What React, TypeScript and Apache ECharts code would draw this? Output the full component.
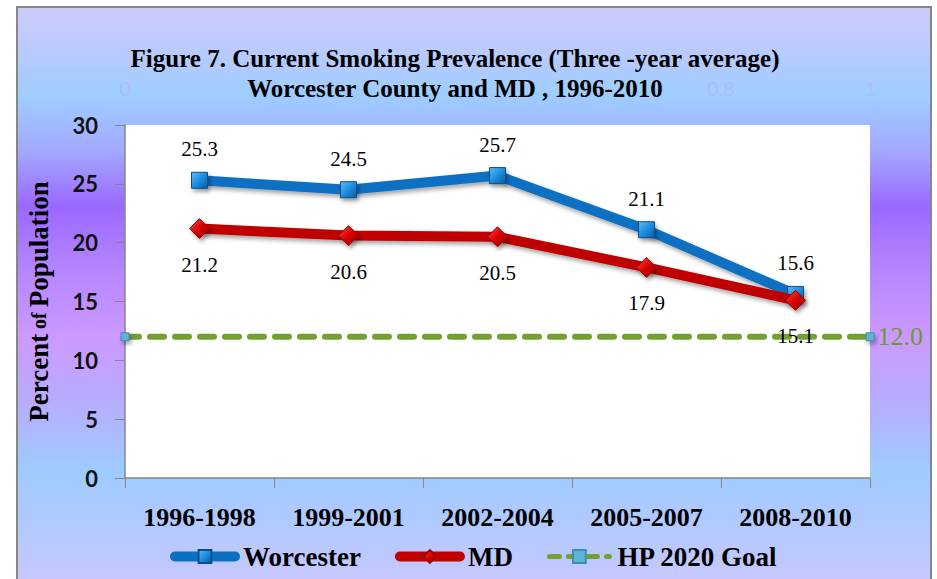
import React, { useEffect, useRef } from "react";
import * as echarts from "echarts";

// ---- Data ----
const categories = ["1996-1998", "1999-2001", "2002-2004", "2005-2007", "2008-2010"];
const worcesterValues = [25.3, 24.5, 25.7, 21.1, 15.6];
const mdValues = [21.2, 20.6, 20.5, 17.9, 15.1];
const goalValue = 12.0;
const goalSpan = [0, 1]; // secondary x axis (0..1) endpoints
const yTickLabels = [0, 5, 10, 15, 20, 25, 30];
const secondaryXTicks = [0, 0.2, 0.4, 0.6, 0.8, 1];
const secondaryXVisible = [0, 0.8, 1]; // the others are hidden behind the title

const titleLines = [
  "Figure 7. Current Smoking Prevalence (Three -year average)",
  "Worcester County and MD , 1996-2010",
];
const seriesNames = ["Worcester", "MD", "HP 2020 Goal"];

const SERIF = "'Liberation Serif', 'Times New Roman', serif";
const SANS = "Lato, 'Open Sans', sans-serif";

export default function App() {
  const ref = useRef<HTMLDivElement>(null);

  useEffect(() => {
    if (!ref.current) return;
    const chart = echarts.init(ref.current, undefined, { renderer: "svg" });

    const shadow = {
      shadowColor: "rgba(0,0,0,0.35)",
      shadowBlur: 4,
      shadowOffsetX: 2,
      shadowOffsetY: 3,
    };

    const option: any = {
      animation: false,
      backgroundColor: "transparent",
      title: {
        text: titleLines.join("\n"),
        left: 455,
        top: 43,
        padding: 0,
        textAlign: "center",
        textStyle: {
          fontFamily: SERIF,
          fontWeight: "bold",
          fontSize: 25,
          lineHeight: 30,
          color: "#000",
        },
      },
      legend: {
        data: [
          { name: seriesNames[0] },
          { name: seriesNames[1] },
          {
            name: seriesNames[2],
            lineStyle: { width: 5, type: [10, 9], cap: "round", color: "#72a033" },
          },
        ],
        left: 165,
        top: 538,
        itemWidth: 60,
        itemHeight: 16,
        itemGap: 34,
        lineStyle: { width: 10, cap: "round" },
        textStyle: {
          fontFamily: SERIF,
          fontWeight: "bold",
          fontSize: 27,
          color: "#000",
          padding: [0, 0, 0, 3],
        },
      },
      grid: {
        left: 125,
        right: 67,
        top: 125,
        bottom: 101,
        show: true,
        backgroundColor: "#ffffff",
        borderWidth: 0,
      },
      xAxis: [
        {
          type: "category",
          data: categories,
          boundaryGap: true,
          axisLine: { show: true, lineStyle: { color: "#868686", width: 1.5 } },
          axisTick: { show: true, length: 10, lineStyle: { color: "#868686" } },
          axisLabel: {
            fontFamily: SERIF,
            fontWeight: "bold",
            fontSize: 26,
            color: "#000",
            margin: 26,
          },
        },
        {
          type: "value",
          position: "top",
          min: secondaryXTicks[0],
          max: secondaryXTicks[secondaryXTicks.length - 1],
          interval: secondaryXTicks[1] - secondaryXTicks[0],
          axisLine: { show: false },
          axisTick: { show: false },
          splitLine: { show: false },
          axisLabel: {
            fontFamily: SANS,
            fontSize: 20,
            color: "#a9c0f0",
            margin: 27,
            formatter: (v: number) =>
              secondaryXVisible.some((t) => Math.abs(t - v) < 1e-6) ? String(v) : "",
          },
        },
      ],
      yAxis: {
        type: "value",
        min: yTickLabels[0],
        max: yTickLabels[yTickLabels.length - 1],
        interval: yTickLabels[1] - yTickLabels[0],
        splitLine: { show: false },
        axisLine: { show: true, lineStyle: { color: "#868686", width: 1.5 } },
        axisTick: { show: true, length: 10, lineStyle: { color: "#868686" } },
        axisLabel: {
          fontFamily: SANS,
          fontWeight: "bold",
          fontSize: 22,
          color: "#111",
          margin: 27,
        },
        name: "{a|Percent}{b| of }{a|Population}",
        nameLocation: "middle",
        nameRotate: 90,
        nameGap: 73,
        nameTextStyle: {
          rich: {
            a: { fontFamily: SERIF, fontWeight: "bold", fontSize: 27, color: "#000" },
            b: { fontFamily: SERIF, fontWeight: "bold", fontSize: 20, color: "#000" },
          },
        },
      },
      series: [
        {
          name: seriesNames[0],
          type: "line",
          data: worcesterValues,
          symbol: "rect",
          symbolSize: 16,
          lineStyle: { color: "#0a70c2", width: 10, ...shadow },
          itemStyle: {
            color: new echarts.graphic.LinearGradient(0, 0, 1, 1, [
              { offset: 0, color: "#5cbcf5" },
              { offset: 0.5, color: "#1d8ee0" },
              { offset: 1, color: "#0a5aa0" },
            ]),
            borderColor: "#0b4d88",
            borderWidth: 1,
            ...shadow,
          },
          label: {
            show: true,
            position: "top",
            distance: 12,
            fontFamily: SERIF,
            fontSize: 21,
            color: "#000",
            formatter: (p: any) => Number(p.value).toFixed(1),
          },
          z: 3,
        },
        {
          name: seriesNames[1],
          type: "line",
          data: mdValues,
          symbol: "diamond",
          symbolSize: 20,
          lineStyle: { color: "#c00000", width: 10, ...shadow },
          itemStyle: {
            color: new echarts.graphic.LinearGradient(0, 0, 1, 1, [
              { offset: 0, color: "#ff5050" },
              { offset: 0.5, color: "#d80000" },
              { offset: 1, color: "#900000" },
            ]),
            borderColor: "#a00000",
            borderWidth: 1,
            ...shadow,
          },
          label: {
            show: true,
            position: "bottom",
            distance: 15,
            fontFamily: SERIF,
            fontSize: 21,
            color: "#000",
            formatter: (p: any) => Number(p.value).toFixed(1),
          },
          z: 4,
        },
        {
          name: seriesNames[2],
          type: "line",
          xAxisIndex: 1,
          yAxisIndex: 0,
          data: goalSpan.map((x, i) => ({
            value: [x, goalValue],
            label: { show: i === goalSpan.length - 1 },
          })),
          symbol: "rect",
          symbolSize: 8,
          lineStyle: {
            color: "#72a033",
            width: 6,
            type: [14, 11],
            cap: "round",
          },
          itemStyle: {
            color: "#5fb3d3",
            borderColor: "#3f8fb0",
            borderWidth: 1,
            ...shadow,
          },
          label: {
            show: false,
            position: "right",
            distance: 3,
            fontFamily: SERIF,
            fontSize: 26,
            color: "#6b9a2f",
            formatter: (p: any) => Number(p.value[1]).toFixed(1),
          },
          z: 2,
        },
      ],
    };

    chart.setOption(option);
    return () => chart.dispose();
  }, []);

  return (
    <div style={{ position: "fixed", left: 0, top: 0, width: 937, height: 579, overflow: "hidden", background: "#fff" }}>
      <div
        style={{
          position: "absolute",
          left: 16,
          top: 6,
          width: 916,
          height: 573,
          boxSizing: "border-box",
          borderTop: "2.5px solid #878787",
          borderLeft: "2.5px solid #878787",
          borderRight: "2.5px solid #878787",
          background:
            "linear-gradient(to bottom, #cbcbfb 0%, #bfcafd 6%, #9ecdff 15.5%, #a3a9ff 25%, #9a68ff 34.7%, #b586ff 46%, #cc99ff 57.4%, #b8acff 68.8%, #9ecbff 81%, #c6c8fe 100%)",
        }}
      />
      <div ref={ref} style={{ position: "absolute", left: 0, top: 0, width: 937, height: 579 }} />
    </div>
  );
}
